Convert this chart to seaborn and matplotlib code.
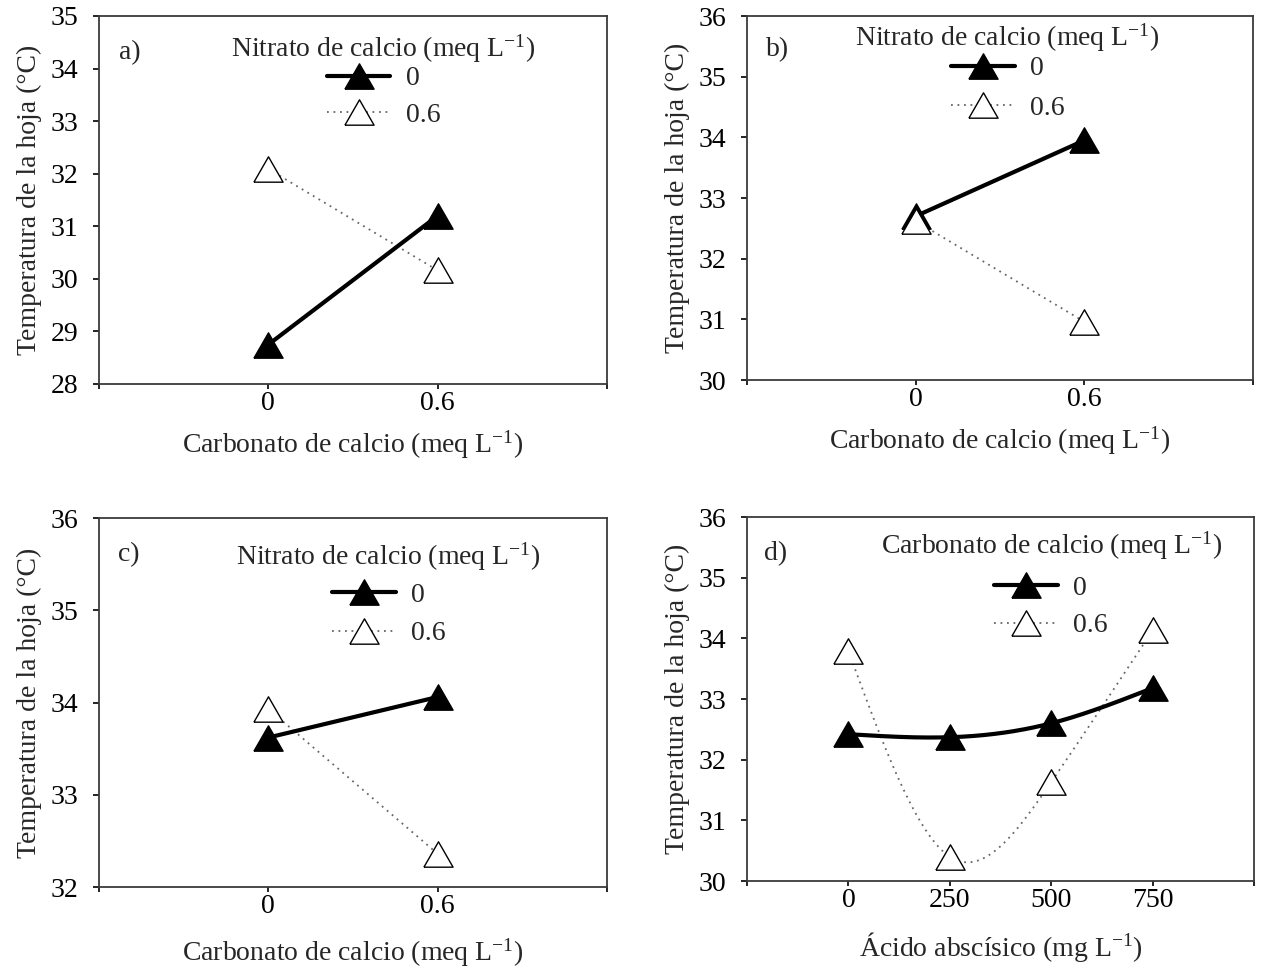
import numpy as np
import pandas as pd
import matplotlib
matplotlib.use("Agg")
import matplotlib.pyplot as plt
import seaborn as sns
from matplotlib.lines import Line2D
from matplotlib.ticker import FixedLocator, FixedFormatter

# ---- data -------------------------------------------------------------
carbonato = [0.0, 0.6]            # Carbonato de calcio (meq L-1)
carbonato_labels = ["0", "0.6"]
levels = ["0", "0.6"]             # legend levels

a_nit_0 = [28.75, 31.20]
a_nit_06 = [32.09, 30.16]
b_nit_0 = [32.70, 33.95]
b_nit_06 = [32.62, 30.96]
c_nit_0 = [33.62, 34.06]
c_nit_06 = [33.93, 32.36]

aba = [0, 250, 500, 750]          # Ácido abscísico (mg L-1)
aba_labels = ["0", "250", "500", "750"]
d_carb_0 = [32.42, 32.37, 32.60, 33.18]
d_carb_06 = [33.79, 30.40, 31.63, 34.13]

# ---- style ------------------------------------------------------------
sns.set_theme(style="ticks")
plt.rcParams["font.family"] = ["Liberation Serif", "DejaVu Serif"]
plt.rcParams["mathtext.fontset"] = "custom"
plt.rcParams["mathtext.rm"] = "Liberation Serif"
plt.rcParams["mathtext.it"] = "Liberation Serif:italic"
plt.rcParams["mathtext.default"] = "rm"

FS = 20
TRI = [(-1.15, -1.0), (1.15, -1.0), (0.0, 1.0), (-1.15, -1.0)]
MS = 21
SOLID = dict(color="black", lw=3.0, ls="-")
DOTTED = dict(color="#666666", lw=1.3, ls=(0, (1, 2.6)))
FILLED = dict(marker=TRI, markersize=MS, markerfacecolor="black",
              markeredgecolor="black", markeredgewidth=1.0)
OPEN = dict(marker=TRI, markersize=MS, markerfacecolor="white",
            markeredgecolor="black", markeredgewidth=1.0)


def natural_spline(x, y, n=300):
    x = np.asarray(x, float)
    y = np.asarray(y, float)
    h = np.diff(x)
    k = len(x)
    A = np.zeros((k, k))
    r = np.zeros(k)
    A[0, 0] = 1.0
    A[-1, -1] = 1.0
    for i in range(1, k - 1):
        A[i, i - 1] = h[i - 1]
        A[i, i] = 2 * (h[i - 1] + h[i])
        A[i, i + 1] = h[i]
        r[i] = 6 * ((y[i + 1] - y[i]) / h[i] - (y[i] - y[i - 1]) / h[i - 1])
    M = np.linalg.solve(A, r)
    xs = np.linspace(x[0], x[-1], n)
    idx = np.clip(np.searchsorted(x, xs) - 1, 0, k - 2)
    x0, x1 = x[idx], x[idx + 1]
    hh = x1 - x0
    aa = (x1 - xs) / hh
    bb = (xs - x0) / hh
    ys = (aa * y[idx] + bb * y[idx + 1]
          + ((aa ** 3 - aa) * M[idx] + (bb ** 3 - bb) * M[idx + 1]) * hh ** 2 / 6)
    return xs, ys


def style_axes(ax, xlim, xticks, xticklabels, ylim, xlabel, xlabelpad):
    ax.set_xlim(*xlim)
    ax.set_ylim(*ylim)
    ax.xaxis.set_major_locator(FixedLocator([xlim[0]] + list(xticks) + [xlim[1]]))
    ax.xaxis.set_major_formatter(FixedFormatter([""] + list(xticklabels) + [""]))
    ax.set_yticks(np.arange(ylim[0], ylim[1] + 1, 1))
    ax.set_yticklabels([f"{v:d}" for v in range(ylim[0], ylim[1] + 1)])
    for s in ax.spines.values():
        s.set_visible(True)
        s.set_color("#3a3a3a")
        s.set_linewidth(1.3)
    ax.tick_params(axis="y", direction="out", length=4.5, width=1.2,
                   pad=10.5, labelsize=FS, colors="black", left=True)
    ax.tick_params(axis="x", direction="out", length=3.8, width=1.2,
                   pad=1.5, labelsize=FS, colors="black", bottom=True)
    ax.set_ylabel("Temperatura de la hoja (°C)", fontsize=FS, labelpad=6)
    ax.set_xlabel(xlabel, fontsize=FS, labelpad=xlabelpad)
    ax.grid(False)


def draw_panel(ax, x, y0, y1, smooth=False):
    if smooth:
        xs0, ys0 = natural_spline(x, y0)
        xs1, ys1 = natural_spline(x, y1)
    else:
        xs0, ys0, xs1, ys1 = x, y0, x, y1
    sns.lineplot(x=xs1, y=ys1, ax=ax, sort=False, estimator=None, zorder=2, **DOTTED)
    sns.lineplot(x=xs0, y=ys0, ax=ax, sort=False, estimator=None, zorder=3, **SOLID)
    ax.plot(x, y0, ls="none", zorder=4, **FILLED)
    ax.plot(x, y1, ls="none", zorder=5, **OPEN)


def add_legend(ax, title, anchor, spacing, title_gap):
    handles = [Line2D([], [], **SOLID, **FILLED),
               Line2D([], [], **DOTTED, **OPEN)]
    leg = ax.legend(handles, levels, title=title, loc="upper center",
                    bbox_to_anchor=anchor, frameon=False, fontsize=FS,
                    title_fontsize=FS, handlelength=2.3, handletextpad=0.55,
                    labelspacing=spacing, borderpad=0.0, borderaxespad=0.0,
                    alignment="center", numpoints=1)
    # gap between the title and the first entry (points)
    leg._legend_box.sep = title_gap
    return leg


def panel_tag(ax, text, pos):
    ax.text(pos[0], pos[1], text, transform=ax.transAxes, fontsize=FS,
            ha="left", va="center")


fig = plt.figure(figsize=(12.62, 9.67), dpi=100)
ax_a = fig.add_axes([0.07845, 0.60290, 0.40254, 0.38056])
ax_b = fig.add_axes([0.59192, 0.60703, 0.40095, 0.37642])
ax_c = fig.add_axes([0.07845, 0.08273, 0.40254, 0.38159])
ax_d = fig.add_axes([0.59192, 0.08893, 0.40174, 0.37642])

nit_title = "Nitrato de calcio (meq L$^{-1}$)"
carb_title = "Carbonato de calcio (meq L$^{-1}$)"
carb_xlabel = "Carbonato de calcio (meq L$^{-1}$)"
aba_xlabel = "Ácido abscísico (mg L$^{-1}$)"

# a)
draw_panel(ax_a, carbonato, a_nit_0, a_nit_06)
style_axes(ax_a, (-0.6, 1.2), carbonato, carbonato_labels, (28, 35), carb_xlabel, 9)
add_legend(ax_a, nit_title, (0.56, 0.955), 0.4, 0.7)
panel_tag(ax_a, "a)", (0.04, 0.90))

# b)
draw_panel(ax_b, carbonato, b_nit_0, b_nit_06)
style_axes(ax_b, (-0.6, 1.2), carbonato, carbonato_labels, (30, 36), carb_xlabel, 9)
add_legend(ax_b, nit_title, (0.515, 0.985), 0.5, 1.4)
panel_tag(ax_b, "b)", (0.037, 0.907))

# c)
draw_panel(ax_c, carbonato, c_nit_0, c_nit_06)
style_axes(ax_c, (-0.6, 1.2), carbonato, carbonato_labels, (32, 36), carb_xlabel, 12)
add_legend(ax_c, nit_title, (0.57, 0.94), 0.47, 7.0)
panel_tag(ax_c, "c)", (0.037, 0.90))

# d)
draw_panel(ax_d, aba, d_carb_0, d_carb_06, smooth=True)
style_axes(ax_d, (-250, 1000), aba, aba_labels, (30, 36), aba_xlabel, 12)
add_legend(ax_d, carb_title, (0.60, 0.967), 0.43, 10.0)
panel_tag(ax_d, "d)", (0.033, 0.90))

fig.savefig("out.png", dpi=100)
